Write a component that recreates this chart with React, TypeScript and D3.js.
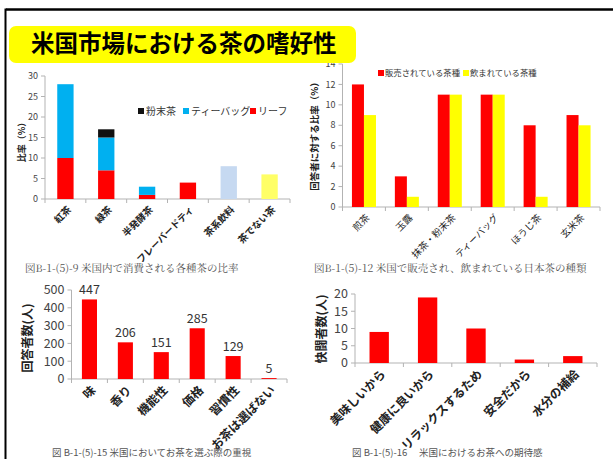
import * as d3 from "d3";

// chart 1: 米国内で消費される各種茶の比率
const c1Cats = ["紅茶", "緑茶", "半発酵茶", "フレーバードティ", "茶系飲料", "茶でない茶"];
const c1Leaf = [10, 7, 1, 4, 0, 0];
const c1Bag = [18, 8, 2, 0, 0, 0];
const c1Powder = [0, 2, 0, 0, 0, 0];
const c1Drink = [0, 0, 0, 0, 8, 0];
const c1NotTea = [0, 0, 0, 0, 0, 6];
const c1Ticks = [0, 5, 10, 15, 20, 25, 30];

// chart 2: 米国で販売され、飲まれている日本茶の種類
const c2Cats = ["煎茶", "玉露", "抹茶・粉末茶", "ティーバッグ", "ほうじ茶", "玄米茶"];
const c2Sold = [12, 3, 11, 11, 8, 9];
const c2Drunk = [9, 1, 11, 11, 1, 8];
const c2Ticks = [0, 2, 4, 6, 8, 10, 12, 14];

// chart 3: お茶を選ぶ際の重視
const c3Cats = ["味", "香り", "機能性", "価格", "習慣性", "お茶は選ばない"];
const c3Vals = [447, 206, 151, 285, 129, 5];
const c3Ticks = [0, 100, 200, 300, 400, 500];

// chart 4: お茶への期待感
const c4Cats = ["美味しいから", "健康に良いから", "リラックスするため", "安全だから", "水分の補給"];
const c4Vals = [9, 19, 10, 1, 2];
const c4Ticks = [0, 5, 10, 15, 20];

const SANS = "'Noto Sans CJK JP', 'Noto Sans', sans-serif";
const SERIF = "'Noto Serif CJK JP', 'Noto Sans CJK JP', serif";
const RED = "#ff0000";
const BLUE = "#00b0f0";
const AXIS = "#b3b3b3";

type AxisProps = {
  x: d3.ScaleBand<string>;
  y: d3.ScaleLinear<number, number>;
  ticks: number[];
  cats: string[];
  tickFont: number;
  catFont: number;
  catWeight?: string | number;
};

function Axes({ x, y, ticks, cats, tickFont, catFont, catWeight = "normal" }: AxisProps) {
  const [x0, x1] = x.range();
  const y0 = y(0);
  const yTop = y(ticks[ticks.length - 1]);
  const bounds = cats.map((c) => (x(c) as number) - (x.step() - x.bandwidth()) / 2).concat([x1]);
  return (
    <g>
      <line x1={x0} x2={x0} y1={yTop} y2={y0} stroke={AXIS} />
      {ticks.map((t) => (
        <g key={t}>
          <line x1={x0 - 4} x2={x0} y1={y(t)} y2={y(t)} stroke={AXIS} />
          <text x={x0 - 7} y={y(t)} dy="0.35em" textAnchor="end" fontSize={tickFont} fill="#444">
            {t}
          </text>
        </g>
      ))}
      <line x1={x0} x2={x1} y1={y0} y2={y0} stroke={AXIS} />
      {bounds.map((b, i) => (
        <line key={i} x1={b} x2={b} y1={y0} y2={y0 + 4} stroke={AXIS} />
      ))}
      {cats.map((c) => {
        const cx = (x(c) as number) + x.bandwidth() / 2;
        return (
          <text
            key={c}
            transform={`translate(${cx + 4},${y0 + 9}) rotate(-45)`}
            textAnchor="end"
            dy="0.35em"
            fontSize={catFont}
            fontWeight={catWeight}
            fill="#222"
          >
            {c}
          </text>
        );
      })}
    </g>
  );
}

function Chart1() {
  const x = d3.scaleBand<string>().domain(c1Cats).range([45, 290]).paddingInner(0.6).paddingOuter(0.3);
  const y = d3.scaleLinear().domain([0, 30]).range([199, 76]);
  const rows = c1Cats.map((c, i) => ({ cat: c, leaf: c1Leaf[i], bag: c1Bag[i], powder: c1Powder[i], drink: c1Drink[i], nottea: c1NotTea[i] }));
  const keys = ["leaf", "bag", "powder", "drink", "nottea"];
  const colors: Record<string, string> = { leaf: RED, bag: BLUE, powder: "#111111", drink: "#c6d9f1", nottea: "#ffff66" };
  const series = d3.stack<any>().keys(keys)(rows);
  const legend = [
    { label: "粉末茶", color: "#111111", x: 138 },
    { label: "ティーバッグ", color: BLUE, x: 183 },
    { label: "リーフ", color: RED, x: 250 },
  ];
  return (
    <g>
      <Axes x={x} y={y} ticks={c1Ticks} cats={c1Cats} tickFont={9} catFont={9.5} catWeight="bold" />
      {series.map((s) =>
        s.map((d, i) =>
          d[1] - d[0] > 0 ? (
            <rect
              key={s.key + i}
              x={x(c1Cats[i])}
              y={y(d[1])}
              width={x.bandwidth()}
              height={y(d[0]) - y(d[1])}
              fill={colors[s.key]}
            />
          ) : null
        )
      )}
      {legend.map((l) => (
        <g key={l.label}>
          <rect x={l.x} y={108} width={6} height={6} fill={l.color} />
          <text x={l.x + 8} y={111} dy="0.35em" fontSize={10} fill="#333">
            {l.label}
          </text>
        </g>
      ))}
      <text transform="translate(22,140) rotate(-90)" textAnchor="middle" dy="0.35em" fontSize={9} fontWeight="bold" fill="#222">
        比率（%）
      </text>
      <text x={25} y={268} dy="0.35em" fontSize={10.5} fill="#555" fontFamily={SERIF}>
        図B-1-(5)-9 米国内で消費される各種茶の比率
      </text>
    </g>
  );
}

function Chart2() {
  const x = d3.scaleBand<string>().domain(c2Cats).range([342.5, 600]).paddingInner(0.44).paddingOuter(0.22);
  const y = d3.scaleLinear().domain([0, 14]).range([207, 64]);
  const sub = d3.scaleBand<string>().domain(["sold", "drunk"]).range([0, x.bandwidth()]);
  const legend = [
    { label: "販売されている茶種", color: RED, x: 378 },
    { label: "飲まれている茶種", color: "#ffff00", x: 463 },
  ];
  return (
    <g>
      <Axes x={x} y={y} ticks={c2Ticks} cats={c2Cats} tickFont={9} catFont={9.5} />
      {c2Cats.map((c, i) => (
        <g key={c}>
          <rect x={(x(c) as number) + (sub("sold") as number)} y={y(c2Sold[i])} width={sub.bandwidth()} height={y(0) - y(c2Sold[i])} fill={RED} />
          <rect x={(x(c) as number) + (sub("drunk") as number)} y={y(c2Drunk[i])} width={sub.bandwidth()} height={y(0) - y(c2Drunk[i])} fill="#ffff00" />
        </g>
      ))}
      {legend.map((l) => (
        <g key={l.label}>
          <rect x={l.x} y={70} width={6} height={6} fill={l.color} />
          <text x={l.x + 7} y={73} dy="0.35em" fontSize={8.4} fill="#333">
            {l.label}
          </text>
        </g>
      ))}
      <text transform="translate(315,134) rotate(-90)" textAnchor="middle" dy="0.35em" fontSize={9.5} fontWeight="bold" fill="#222">
        回答者に対する比率（%）
      </text>
      <text x={314} y={268} dy="0.35em" fontSize={10.5} fill="#555" fontFamily={SERIF}>
        図B-1-(5)-12 米国で販売され、飲まれている日本茶の種類
      </text>
    </g>
  );
}

function Chart3() {
  const x = d3.scaleBand<string>().domain(c3Cats).range([71.5, 287]).paddingInner(0.58).paddingOuter(0.29);
  const y = d3.scaleLinear().domain([0, 500]).range([379, 290]);
  return (
    <g>
      <Axes x={x} y={y} ticks={c3Ticks} cats={c3Cats} tickFont={12.5} catFont={12} catWeight="bold" />
      {c3Cats.map((c, i) => (
        <g key={c}>
          <rect x={x(c)} y={y(c3Vals[i])} width={x.bandwidth()} height={y(0) - y(c3Vals[i])} fill={RED} />
          <text x={(x(c) as number) + x.bandwidth() / 2} y={y(c3Vals[i]) - 5} textAnchor="middle" fontSize={12.5} fill="#333">
            {c3Vals[i]}
          </text>
        </g>
      ))}
      <text transform="translate(28,338) rotate(-90)" textAnchor="middle" dy="0.35em" fontSize={12} fontWeight="bold" fill="#222">
        回答者数(人)
      </text>
      <text x={52} y={453} dy="0.35em" fontSize={9.5} fill="#555">
        図 B-1-(5)-15 米国においてお茶を選ぶ際の重視
      </text>
    </g>
  );
}

function Chart4() {
  const x = d3.scaleBand<string>().domain(c4Cats).range([355, 597]).paddingInner(0.6).paddingOuter(0.3);
  const y = d3.scaleLinear().domain([0, 20]).range([363, 294]);
  return (
    <g>
      <Axes x={x} y={y} ticks={c4Ticks} cats={c4Cats} tickFont={12.5} catFont={12} catWeight="bold" />
      {c4Cats.map((c, i) => (
        <rect key={c} x={x(c)} y={y(c4Vals[i])} width={x.bandwidth()} height={y(0) - y(c4Vals[i])} fill={RED} />
      ))}
      <text transform="translate(322,329) rotate(-90)" textAnchor="middle" dy="0.35em" fontSize={12} fontWeight="bold" fill="#222">
        快闘者数(人)
      </text>
      <text x={352} y={453} dy="0.35em" fontSize={9.5} fill="#555">
        図 B-1-(5)-16　 米国におけるお茶への期待感
      </text>
    </g>
  );
}

export default function App() {
  return (
    <svg
      width={613}
      height={459}
      style={{ position: "absolute", left: 0, top: 0, background: "#fff" }}
      fontFamily={SANS}
    >
      <rect width={613} height={459} fill="#fff" />
      <line x1={6} x2={613} y1={9.5} y2={9.5} stroke="#000" strokeWidth={2.5} />
      <line x1={5.5} x2={5.5} y1={8.5} y2={459} stroke="#000" strokeWidth={2} />
      <Chart1 />
      <Chart2 />
      <Chart3 />
      <Chart4 />
      {/* title box drawn last: it covers the top of the "14" tick as in the slide */}
      <rect x={9} y={26} width={347} height={37} rx={7} fill="#ffff00" />
      <text x={31} y={44} dy="0.35em" fontSize={23.5} fontWeight="bold" fill="#000">
        米国市場における茶の嗜好性
      </text>
    </svg>
  );
}
